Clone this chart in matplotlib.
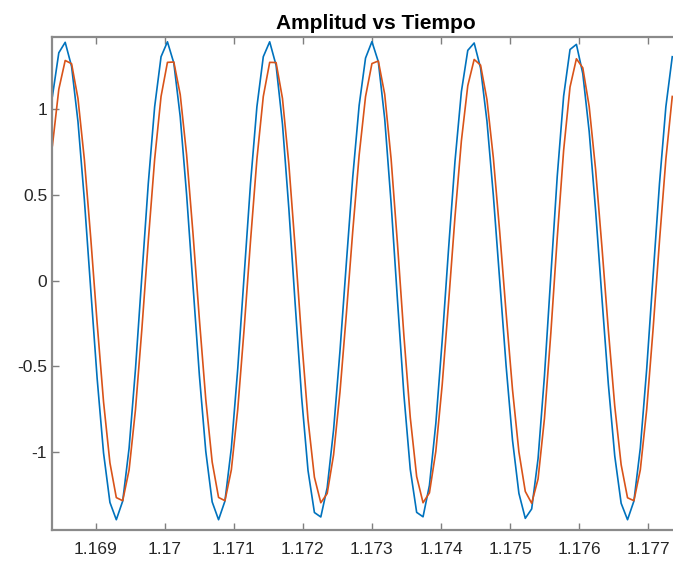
import numpy as np
import matplotlib
matplotlib.use("Agg")
from matplotlib import pyplot as plt

blue = [1.076,1.330,1.391,1.250,0.928,0.472,-0.053,-0.571,-1.005,-1.294,-1.395,-1.286,-0.977,-0.515,0.028,0.566,1.015,1.307,1.394,1.270,
        0.957,0.502,-0.027,-0.553,-0.996,-1.291,-1.395,-1.286,-0.977,-0.515,0.028,0.566,1.015,1.307,1.394,1.257,0.914,0.420,-0.142,-0.681,
        -1.108,-1.353,-1.379,-1.208,-0.870,-0.411,0.104,0.605,1.023,1.299,1.395,1.278,0.945,0.453,-0.115,-0.664,-1.101,-1.352,-1.378,-1.194,
        -0.833,-0.348,0.189,0.697,1.103,1.344,1.387,1.241,0.931,0.498,0.000,-0.498,-0.931,-1.241,-1.387,-1.332,-1.038,-0.555,0.030,0.609,
        1.077,1.349,1.379,1.208,0.870,0.411,-0.104,-0.605,-1.023,-1.299,-1.395,-1.286,-0.977,-0.515,0.028,0.566,1.015,1.307]

orange = [0.788,1.117,1.285,1.266,1.063,0.707,0.248,-0.248,-0.707,-1.063,-1.266,-1.284,-1.104,-0.752,-0.282,0.231,0.709,1.075,1.274,1.276,
          1.086,0.735,0.275,-0.226,-0.693,-1.058,-1.265,-1.284,-1.104,-0.752,-0.282,0.231,0.709,1.075,1.274,1.273,1.064,0.680,0.185,-0.341,
          -0.811,-1.147,-1.296,-1.242,-1.016,-0.650,-0.194,0.289,0.732,1.074,1.267,1.282,1.088,0.711,0.214,-0.319,-0.798,-1.143,-1.296,-1.238,
          -0.996,-0.606,-0.126,0.373,0.816,1.138,1.291,1.258,1.057,0.717,0.283,-0.189,-0.636,-0.999,-1.230,-1.299,-1.157,-0.804,-0.305,0.250,
          0.760,1.130,1.295,1.242,1.016,0.650,0.194,-0.289,-0.732,-1.074,-1.267,-1.284,-1.104,-0.752,-0.282,0.231,0.709,1.075]

t0 = 1.168376   # first sample time (s)
dt = 9.248e-5   # sample spacing (s)
t = t0 + np.arange(len(blue)) * dt

xticks = [1.169, 1.170, 1.171, 1.172, 1.173, 1.174, 1.175, 1.176, 1.177]
xlabels = ['1.169', '1.17', '1.171', '1.172', '1.173', '1.174', '1.175', '1.176', '1.177']
yticks = [-1, -0.5, 0, 0.5, 1]
ylabels = ['-1', '-0.5', '0', '0.5', '1']

plt.rcParams['font.family'] = ['Liberation Sans', 'DejaVu Sans']
fig = plt.figure(figsize=(6.73, 5.63), dpi=100)
# axes runs past the right edge of the picture (cropped screenshot)
ax = fig.add_axes([52 / 673, 33 / 563, 648 / 673, 493 / 563])
ax.plot(t, blue, color='#0072BD', lw=1.2)
ax.plot(t, orange, color='#D95319', lw=1.2)
ax.set_xlim(1.168370, 1.177748)
ax.set_ylim(-1.455, 1.422)
ax.set_xticks(xticks)
ax.set_xticklabels(xlabels)
ax.set_yticks(yticks)
ax.set_yticklabels(ylabels)
ax.tick_params(direction='in', length=5, width=1, colors='#7f7f7f', labelcolor='#262626',
               labelsize=12.5, top=True, right=False)
ax.tick_params(axis='x', pad=8.5)
for s in ax.spines.values():
    s.set_color('#8a8a8a')
    s.set_linewidth(1.6)
ax.set_title('Amplitud vs Tiempo', fontsize=15, fontweight='bold', pad=6)
fig.savefig("out.png")
